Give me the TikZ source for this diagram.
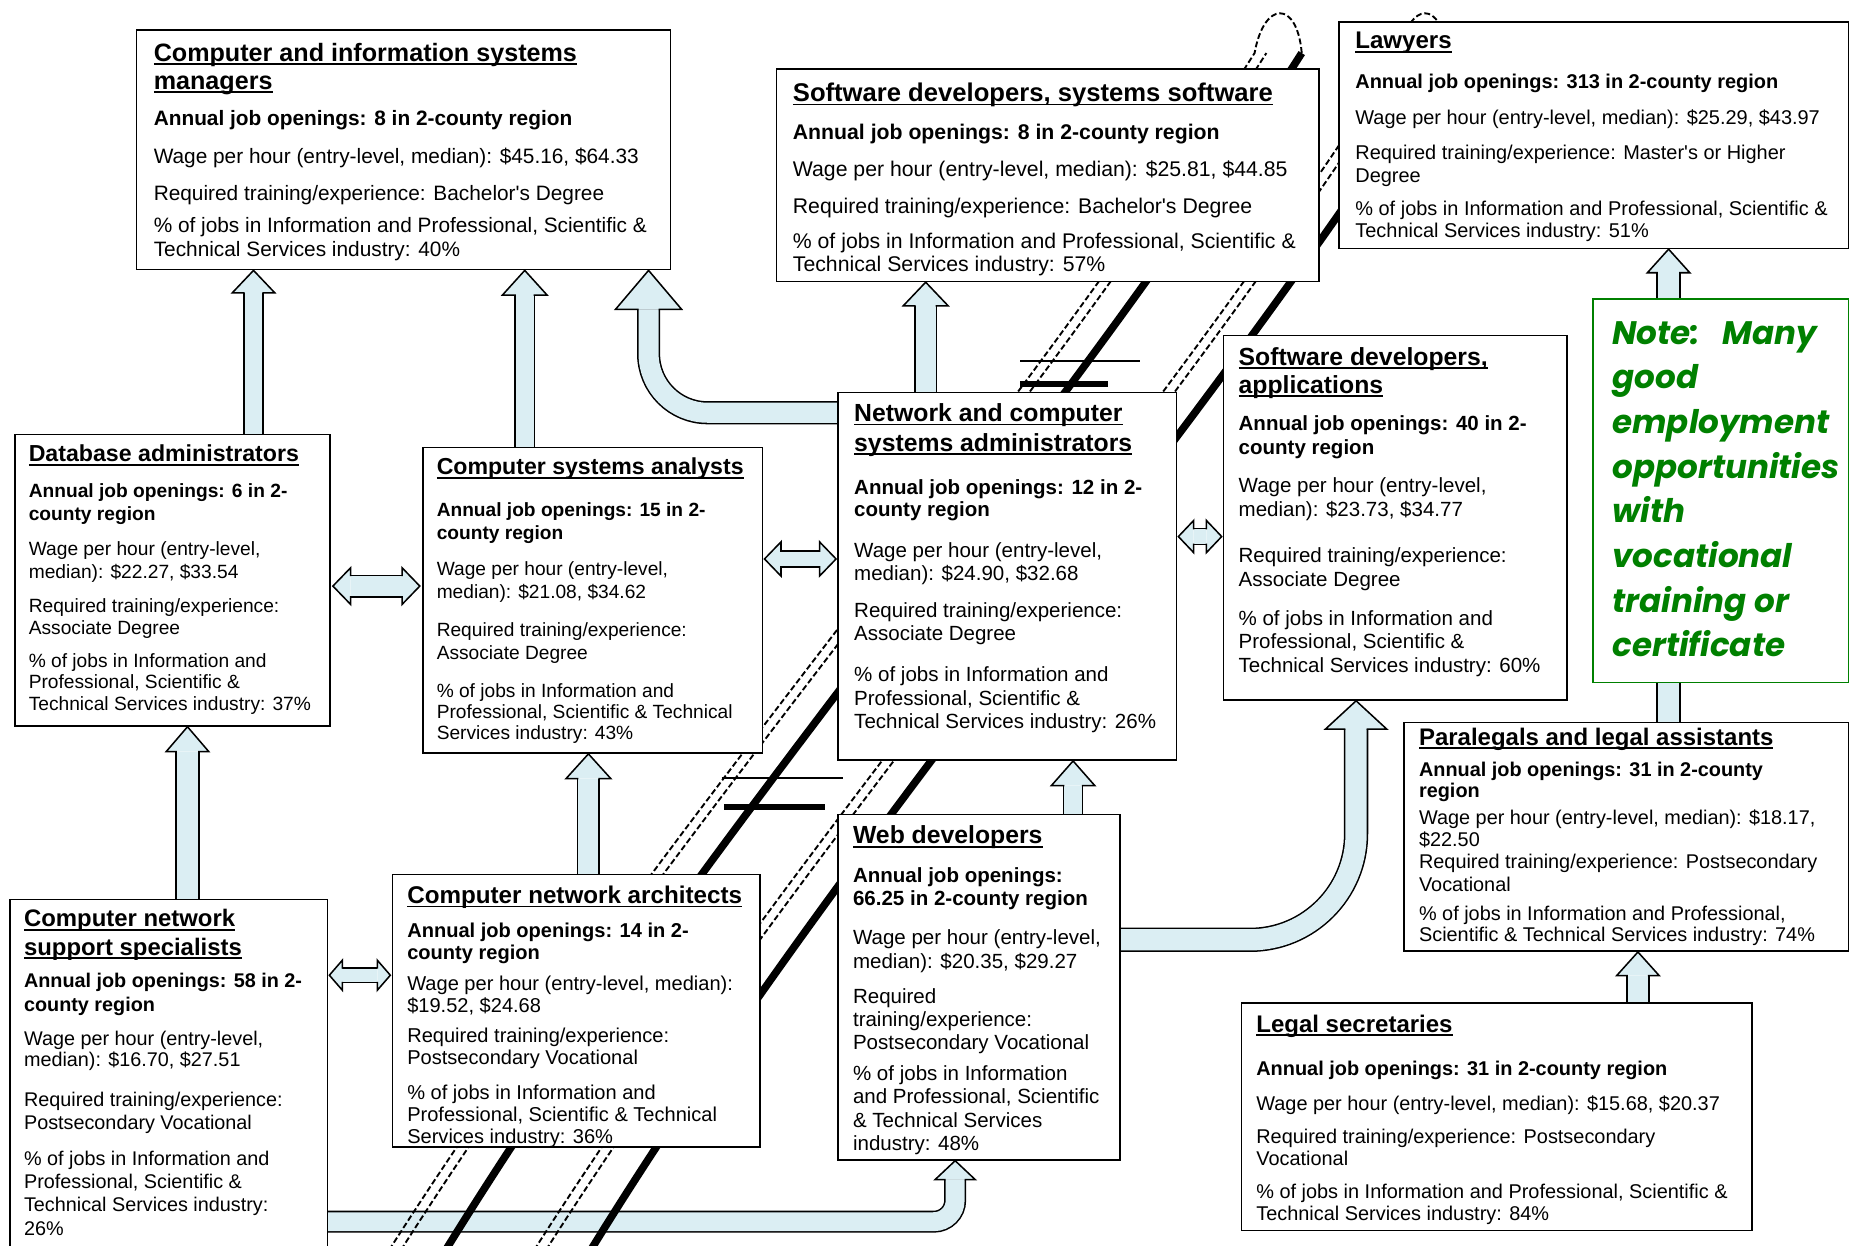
\documentclass[tikz,border=0pt]{standalone}
\usepackage{fontspec}
\setmainfont{Liberation Sans}
\newfontfamily\notefont{Poppins}
\usetikzlibrary{calc,backgrounds}
\definecolor{afill}{HTML}{DBEEF3}
\definecolor{notegreen}{HTML}{008000}
\newcommand\uln[1]{\setbox0=\hbox{#1}\rlap{\rule[-1.6pt]{\wd0}{0.75pt}}\box0}
\newcommand\aps{\textquotesingle}
\tikzset{
 box/.style={draw=black, line width=0.65pt, fill=white, inner sep=0pt, anchor=north west},
 tx/.style={inner sep=0pt, anchor=north west, align=left},
 shaft/.style={draw=black, line width=0.65pt, double=afill, double distance=#1},
 ahead/.style={fill=afill, draw=black, line width=0.65pt, line join=miter},
 junkd/.style={line width=0.8pt, dash pattern=on 2.5pt off 1.2pt},
 junkt/.style={line width=3.2pt},
}
\def\bsz{8.7}\def\tsz{10.5}
\newcommand\FS[1]{\pgfmathsetmacro\bsz{8.7*#1}\pgfmathsetmacro\tsz{10.5*#1}}
\newcommand\JBox[5]{\node[box, minimum width={(#4-#2)*0.5pt}, minimum height={(#5-#3)*0.5pt}] (#1) at (#2,#3) {};}
\newcommand\Ttl[5]{\node[tx, font=\fontsize{\tsz}{#4}\selectfont\bfseries] (#1) at (#2,{#3-8}) {#5};}
\newcommand\Txt[5]{\node[tx, font=\fontsize{\bsz}{#4}\selectfont] (#1) at (#2,{#3-7}) {#5};}
\newcommand\Bld[5]{\node[tx, font=\fontsize{\bsz}{#4}\selectfont\bfseries] (#1) at (#2,{#3-7}) {#5};}
% up arrow: name, x, lower node, upper node, shaft half, head half, head length
\newcommand\UpArrow[7]{%
 \coordinate (#1t) at (#2,0 |- #4.south);
 \coordinate (#1b) at (#2,0 |- #3.north);
 \coordinate (#1h) at ($(#1t)+(0,#7)$);
 \draw[shaft=#5pt] (#1b) -- (#1h);
 \filldraw[ahead] ($(#1h)+(-#5,0)$) -- ($(#1h)+(-#6,0)$) -- (#1t) -- ($(#1h)+(#6,0)$) -- ($(#1h)+(#5,0)$);
}
% double horizontal arrow: name, left node, right node, y, shaft half, head half, head length, gap
\newcommand\HDArrow[8]{%
 \coordinate (#1l) at ($(#2.east |- 0,#4)+(#8,0)$);
 \coordinate (#1r) at ($(#3.west |- 0,#4)+(-#8,0)$);
 \coordinate (#1lh) at ($(#1l)+(#7,0)$);
 \coordinate (#1rh) at ($(#1r)+(-#7,0)$);
 \draw[shaft=#5pt] (#1lh) -- (#1rh);
 \filldraw[ahead] ($(#1lh)+(0,-#5)$) -- ($(#1lh)+(0,-#6)$) -- (#1l) -- ($(#1lh)+(0,#6)$) -- ($(#1lh)+(0,#5)$);
 \filldraw[ahead] ($(#1rh)+(0,-#5)$) -- ($(#1rh)+(0,-#6)$) -- (#1r) -- ($(#1rh)+(0,#6)$) -- ($(#1rh)+(0,#5)$);
}
% curved arrow: name, start coordinate, x of vertical part, tip node, shaft half, head half, head length, radius
\newcommand\CurvArrow[8]{%
 \coordinate (#1t) at (#3,0 |- #4.south);
 \coordinate (#1h) at ($(#1t)+(0,#7)$);
 \coordinate (#1c) at (#3,0 |- #2);
 \draw[shaft=#5pt, rounded corners=#8pt] (#2) -- (#1c) -- (#1h);
 \filldraw[ahead] ($(#1h)+(-#5,0)$) -- ($(#1h)+(-#6,0)$) -- (#1t) -- ($(#1h)+(#6,0)$) -- ($(#1h)+(#5,0)$);
}
\begin{document}
\begin{tikzpicture}[x=0.5pt,y=-0.5pt]
\useasboundingbox (0,0) rectangle (1568,1056);

% ---------- boxes ----------
\FS{1.015}
\JBox{cis}{115}{25}{568}{228}
\Ttl{cisT}{130}{44}{12}{\uln{Computer and information systems}\\\uln{managers}}
\Bld{cisA}{130}{100}{10}{Annual job openings: 8 in 2-county region}
\Txt{cisW}{130}{132}{10}{Wage per hour (entry-level, median): \$45.16, \$64.33}
\Txt{cisR}{130}{164}{10}{Required training/experience: Bachelor\aps s Degree}
\Txt{cisP}{130}{191}{10}{\% of jobs in Information and Professional, Scientific \&\\Technical Services industry: 40\%}

\FS{1.035}
\JBox{sws}{658}{58}{1118}{238}
\Ttl{swsT}{672}{78}{12}{\uln{Software developers, systems software}}
\Bld{swsA}{672}{112}{10}{Annual job openings: 8 in 2-county region}
\Txt{swsW}{672}{143}{10}{Wage per hour (entry-level, median): \$25.81, \$44.85}
\Txt{swsR}{672}{175}{10}{Required training/experience: Bachelor\aps s Degree}
\Txt{swsP}{672}{204}{10}{\% of jobs in Information and Professional, Scientific \&\\Technical Services industry: 57\%}

\FS{0.972}
\JBox{law}{1135}{18}{1567}{210}
\Ttl{lawT}{1149}{35}{12}{\uln{Lawyers}}
\Bld{lawA}{1149}{69}{10}{Annual job openings: 313 in 2-county region}
\Txt{lawW}{1149}{100}{10}{Wage per hour (entry-level, median): \$25.29, \$43.97}
\Txt{lawR}{1149}{130}{9.5}{Required training/experience: Master\aps s or Higher\\Degree}
\Txt{lawP}{1149}{177}{9.5}{\% of jobs in Information and Professional, Scientific \&\\Technical Services industry: 51\%}

\FS{0.935}
\JBox{db}{12}{368}{279}{615}
\Ttl{dbT}{24}{385}{12}{\uln{Database administrators}}
\Bld{dbA}{24}{417}{9.5}{Annual job openings: 6 in 2-\\county region}
\Txt{dbW}{24}{466}{9.5}{Wage per hour (entry-level,\\median): \$22.27, \$33.54}
\Txt{dbR}{24}{514}{9.5}{Required training/experience:\\Associate Degree}
\Txt{dbP}{24}{561}{9}{\% of jobs in Information and\\Professional, Scientific \&\\Technical Services industry: 37\%}

\FS{0.933}
\JBox{csa}{358}{379}{646}{638}
\Ttl{csaT}{370}{396}{12}{\uln{Computer systems analysts}}
\Bld{csaA}{370}{433}{9.5}{Annual job openings: 15 in 2-\\county region}
\Txt{csaW}{370}{483}{9.5}{Wage per hour (entry-level,\\median): \$21.08, \$34.62}
\Txt{csaR}{370}{535}{9.5}{Required training/experience:\\Associate Degree}
\Txt{csaP}{370}{586}{9}{\% of jobs in Information and\\Professional, Scientific \& Technical\\Services industry: 43\%}

\FS{1.0}
\JBox{net}{710}{332}{997}{644}
\Ttl{netT}{724}{350}{12.5}{\uln{Network and computer}\\\uln{systems administrators}}
\Bld{netA}{724}{413}{9.5}{Annual job openings: 12 in 2-\\county region}
\Txt{netW}{724}{467}{9.5}{Wage per hour (entry-level,\\median): \$24.90, \$32.68}
\Txt{netR}{724}{518}{9.5}{Required training/experience:\\Associate Degree}
\Txt{netP}{724}{572}{10}{\% of jobs in Information and\\Professional, Scientific \&\\Technical Services industry: 26\%}

\JBox{app}{1037}{284}{1328}{593}
\Ttl{appT}{1050}{302}{12}{\uln{Software developers,}\\\uln{applications}}
\Bld{appA}{1050}{359}{10}{Annual job openings: 40 in 2-\\county region}
\Txt{appW}{1050}{412}{10}{Wage per hour (entry-level,\\median): \$23.73, \$34.77}
\Txt{appR}{1050}{471}{10}{Required training/experience:\\Associate Degree}
\Txt{appP}{1050}{524}{10}{\% of jobs in Information and\\Professional, Scientific \&\\Technical Services industry: 60\%}

\FS{0.968}
\JBox{par}{1190}{612}{1567}{806}
\Ttl{parT}{1203}{625}{12}{\uln{Paralegals and legal assistants}}
\Bld{parA}{1203}{653}{9}{Annual job openings: 31 in 2-county\\region}
\Txt{parW}{1203}{693}{9.5}{Wage per hour (entry-level, median): \$18.17,\\\$22.50}
\Txt{parR}{1203}{731}{9.5}{Required training/experience: Postsecondary\\Vocational}
\Txt{parP}{1203}{775}{9}{\% of jobs in Information and Professional,\\Scientific \& Technical Services industry: 74\%}

\FS{0.97}
\JBox{leg}{1052}{850}{1485}{1043}
\Ttl{legT}{1065}{868}{12}{\uln{Legal secretaries}}
\Bld{legA}{1065}{906}{10}{Annual job openings: 31 in 2-county region}
\Txt{legW}{1065}{936}{10}{Wage per hour (entry-level, median): \$15.68, \$20.37}
\Txt{legR}{1065}{964}{9.5}{Required training/experience: Postsecondary\\Vocational}
\Txt{legP}{1065}{1011}{9}{\% of jobs in Information and Professional, Scientific \&\\Technical Services industry: 84\%}

\FS{1.0}
\JBox{web}{710}{690}{949}{983}
\Ttl{webT}{723}{708}{12}{\uln{Web developers}}
\Bld{webA}{723}{742}{10}{Annual job openings:\\66.25 in 2-county region}
\Txt{webW}{723}{795}{10}{Wage per hour (entry-level,\\median): \$20.35, \$29.27}
\Txt{webR}{723}{845}{9.75}{Required\\training/experience:\\Postsecondary Vocational}
\Txt{webP}{723}{910}{10}{\% of jobs in Information\\and Professional, Scientific\\\& Technical Services\\industry: 48\%}

\FS{0.977}
\JBox{arc}{332}{741}{644}{972}
\Ttl{arcT}{345}{759}{12}{\uln{Computer network architects}}
\Bld{arcA}{345}{789}{9.5}{Annual job openings: 14 in 2-\\county region}
\Txt{arcW}{345}{834}{9.5}{Wage per hour (entry-level, median):\\\$19.52, \$24.68}
\Txt{arcR}{345}{878}{9.5}{Required training/experience:\\Postsecondary Vocational}
\Txt{arcP}{345}{927}{9.25}{\% of jobs in Information and\\Professional, Scientific \& Technical\\Services industry: 36\%}

\FS{0.965}
\JBox{sup}{8}{762}{277}{1080}
\Ttl{supT}{20}{779}{12}{\uln{Computer network}\\\uln{support specialists}}
\Bld{supA}{20}{832}{10}{Annual job openings: 58 in 2-\\county region}
\Txt{supW}{20}{881}{9}{Wage per hour (entry-level,\\median): \$16.70, \$27.51}
\Txt{supR}{20}{933}{9.5}{Required training/experience:\\Postsecondary Vocational}
\Txt{supP}{20}{983}{9.8}{\% of jobs in Information and\\Professional, Scientific \&\\Technical Services industry:\\26\%}

\node[box, draw=notegreen, line width=0.8pt, minimum width={(1567-1350)*0.5pt}, minimum height={(578-253)*0.5pt}] (note) at (1350,253) {};
\node[tx, text=notegreen, font=\notefont\bfseries\itshape\fontsize{13.8}{18.95}\selectfont] (noteT) at (1367,272) {Note:\ \ \ Many\\good\\employment\\opportunities\\with\\vocational\\training or\\certificate};

% ---------- arrows and background strokes ----------
\begin{pgfonlayer}{background}
\UpArrow{a1}{215}{db}{cis}{7.5}{18}{19}
\UpArrow{a2}{445}{csa}{cis}{7.5}{19}{21}
\UpArrow{a3}{785}{net}{sws}{8.5}{19}{20}
\UpArrow{a4}{159}{sup}{db}{9}{18}{21}
\UpArrow{a5}{499}{arc}{csa}{8.5}{19}{21}
\UpArrow{a6}{910}{web}{net}{7.5}{18.5}{21}
\UpArrow{a7}{1415}{par}{law}{9}{18}{20}
\UpArrow{a8}{1389}{leg}{par}{8.5}{18}{20}
\HDArrow{d1}{db}{csa}{497}{8.5}{15.5}{15}{2}
\HDArrow{d2}{csa}{net}{474}{6}{14.5}{14}{1}
\HDArrow{d3}{net}{app}{455}{6}{13.7}{13}{1}
\HDArrow{d4}{sup}{arc}{827}{5.7}{12.7}{11}{1}
\coordinate (c1s) at (net.west |- 0,350);
\CurvArrow{c1}{c1s}{550}{cis}{8.5}{28}{33}{25}
\coordinate (c2s) at (web.east |- 0,797);
\CurvArrow{c2}{c2s}{1150}{app}{9}{26}{24}{45}
\coordinate (c3s) at (sup.east |- 0,1036);
\CurvArrow{c3}{c3s}{810}{web}{8}{17}{16}{9}

% stray diagonal strokes
\foreach \o in {0,123}{
  \draw[junkd] ({330+\o},1060) .. controls ({560+\o},700) and ({850+\o},380) .. ({1063.9+\o},45) .. controls ({1072+\o},0) and ({1100+\o},0) .. ({1103.9+\o},45);
  \draw[junkd] ({340+\o},1060) .. controls ({570+\o},700) and ({860+\o},380) .. ({1073.9+\o},45);
  \draw[junkt] ({378+\o},1060) .. controls ({600+\o},700) and ({890+\o},380) .. ({1103.9+\o},45);
}
\draw[line width=0.9pt] (865,306) -- (967,306);
\draw[line width=2.5pt] (865,326) -- (940,326);
\draw[line width=0.9pt] (612,660) -- (715,660);
\draw[line width=2.5pt] (614,684) -- (700,684);
\end{pgfonlayer}
\end{tikzpicture}
\end{document}
